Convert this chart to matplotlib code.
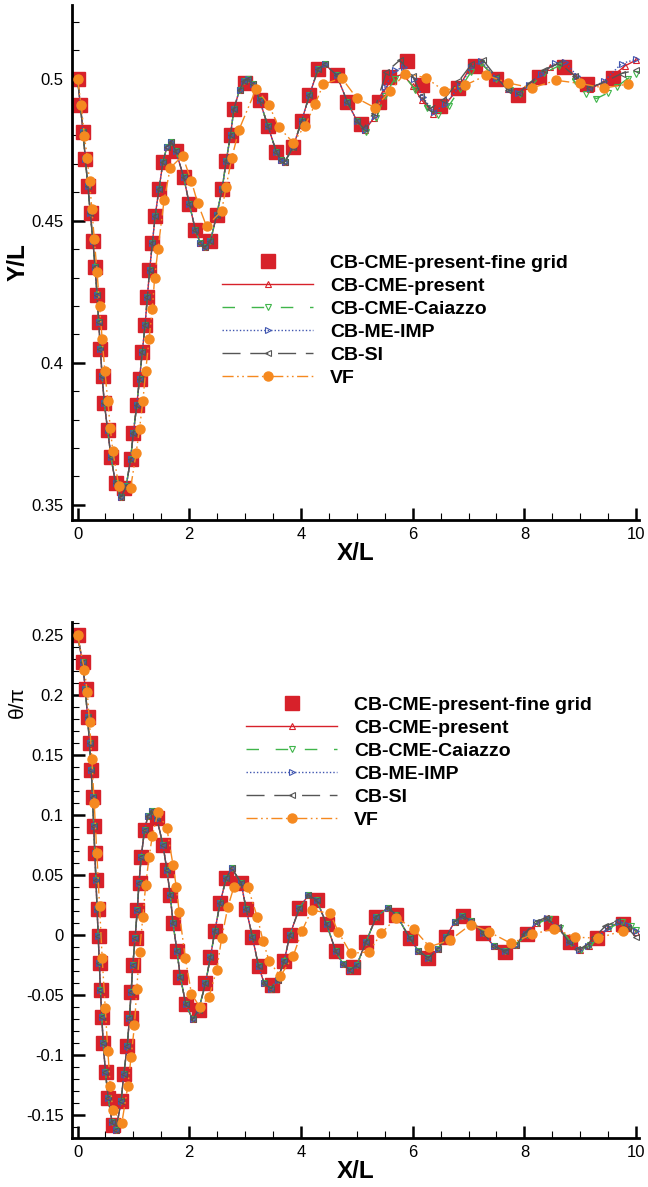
import matplotlib
matplotlib.use('Agg')
import matplotlib.pyplot as plt
from matplotlib.ticker import MultipleLocator, FuncFormatter

plt.rcParams['font.family'] = ['Liberation Sans', 'DejaVu Sans']

# ---------------- top panel: Y/L vs X/L ----------------
# shared part of the four line series (X/L < 5)
x_top_head = [0.00, 0.05, 0.10, 0.14, 0.185, 0.23, 0.275, 0.315, 0.35, 0.38, 0.41, 0.44, 0.48,
              0.54, 0.60, 0.68, 0.78, 0.87, 0.95, 1.00, 1.06, 1.11, 1.16, 1.21, 1.25, 1.29,
              1.34, 1.39, 1.46, 1.53, 1.60, 1.68, 1.76, 1.90, 2.00, 2.11, 2.20, 2.28, 2.38,
              2.49, 2.59, 2.66, 2.74, 2.80, 2.90, 2.98, 3.06, 3.15, 3.26, 3.41, 3.56, 3.64,
              3.71, 3.86, 4.01, 4.15, 4.31, 4.43, 4.64, 4.83, 5.00]
y_top_head = [0.5000, 0.4908, 0.4812, 0.4718, 0.4622, 0.4527, 0.4429, 0.4337, 0.4239, 0.4143,
              0.4047, 0.3953, 0.3858, 0.3762, 0.3668, 0.3576, 0.3527, 0.3565, 0.3660, 0.3754,
              0.3850, 0.3944, 0.4038, 0.4134, 0.4231, 0.4325, 0.4421, 0.4517, 0.4613, 0.4707,
              0.4760, 0.4777, 0.4745, 0.4654, 0.4560, 0.4468, 0.4420, 0.4407, 0.4429, 0.4519,
              0.4613, 0.4709, 0.4803, 0.4894, 0.4960, 0.4990, 0.5000, 0.4980, 0.4924, 0.4832,
              0.4742, 0.4712, 0.4707, 0.4759, 0.4850, 0.4941, 0.5035, 0.5050, 0.5012, 0.4918,
              0.4852]

# tails (X/L > 5), where the schemes drift apart
x_top_present = [5.14, 5.30, 5.47, 5.65, 5.82, 6.00, 6.16, 6.37, 6.55, 6.82, 7.00, 7.20, 7.50,
                 7.70, 7.86, 8.05, 8.27, 8.45, 8.67, 8.90, 9.18, 9.40, 9.59, 9.80, 10.0]
y_top_present = [0.4818, 0.4860, 0.4953, 0.5005, 0.5015, 0.4975, 0.4925, 0.4877, 0.4900, 0.4967,
                 0.5030, 0.5059, 0.5000, 0.4965, 0.4953, 0.4975, 0.5006, 0.5040, 0.5059, 0.5010,
                 0.4965, 0.4985, 0.5010, 0.5045, 0.5065]
x_top_caiazzo = [5.16, 5.35, 5.50, 5.68, 5.84, 6.05, 6.25, 6.46, 6.65, 6.85, 7.05, 7.22, 7.50,
                 7.75, 7.92, 8.10, 8.35, 8.62, 8.90, 9.10, 9.29, 9.50, 9.65, 9.85, 10.0]
y_top_caiazzo = [0.4812, 0.4860, 0.4940, 0.5000, 0.5012, 0.4960, 0.4895, 0.4871, 0.4905, 0.4965,
                 0.5025, 0.5055, 0.5000, 0.4960, 0.4945, 0.4970, 0.5020, 0.5045, 0.4990, 0.4945,
                 0.4930, 0.4950, 0.4971, 0.5000, 0.5018]
x_top_meimp = [5.14, 5.32, 5.50, 5.68, 5.85, 6.02, 6.18, 6.38, 6.58, 6.85, 7.05, 7.22, 7.50,
               7.72, 7.88, 8.08, 8.30, 8.55, 8.72, 8.95, 9.18, 9.42, 9.74, 10.0]
y_top_meimp = [0.4820, 0.4870, 0.4970, 0.5030, 0.5040, 0.5000, 0.4935, 0.4882, 0.4910, 0.4975,
               0.5040, 0.5062, 0.5002, 0.4962, 0.4950, 0.4978, 0.5015, 0.5055, 0.5060, 0.5008,
               0.4966, 0.4990, 0.5053, 0.5068]
x_top_si = [5.12, 5.30, 5.53, 5.77, 6.00, 6.15, 6.31, 6.55, 6.82, 7.05, 7.26, 7.50, 7.70, 7.90,
            8.10, 8.35, 8.62, 8.90, 9.15, 9.40, 9.74, 10.0]
y_top_si = [0.4825, 0.4880, 0.5024, 0.5065, 0.5010, 0.4940, 0.4894, 0.4925, 0.4990, 0.5050,
            0.5065, 0.5005, 0.4960, 0.4950, 0.4985, 0.5030, 0.5055, 0.5010, 0.4968, 0.4985,
            0.5018, 0.5030]

# fine grid squares
x_top_fine = [0.00, 0.05, 0.095, 0.14, 0.185, 0.233, 0.275, 0.317, 0.353, 0.376, 0.40, 0.454,
              0.47, 0.55, 0.604, 0.68, 0.824, 0.95, 1.00, 1.07, 1.11, 1.16, 1.21, 1.24, 1.28,
              1.34, 1.39, 1.46, 1.53, 1.76, 1.90, 2.00, 2.11, 2.38, 2.49, 2.59, 2.66, 2.74,
              2.80, 3.00, 3.26, 3.41, 3.56, 3.86, 4.01, 4.15, 4.31, 4.64, 4.83, 5.08, 5.39,
              5.57, 5.89, 6.16, 6.48, 6.82, 7.11, 7.50, 7.89, 8.27, 8.70, 9.12, 9.59]
y_top_fine = [0.5000, 0.4908, 0.4812, 0.4718, 0.4622, 0.4527, 0.4429, 0.4337, 0.4239, 0.4143,
              0.4047, 0.3953, 0.3858, 0.3762, 0.3668, 0.3576, 0.3559, 0.3660, 0.3754, 0.3850,
              0.3944, 0.4038, 0.4134, 0.4231, 0.4325, 0.4421, 0.4517, 0.4613, 0.4707, 0.4745,
              0.4654, 0.4560, 0.4468, 0.4429, 0.4519, 0.4613, 0.4709, 0.4803, 0.4894, 0.4986,
              0.4924, 0.4832, 0.4742, 0.4759, 0.4850, 0.4941, 0.5035, 0.5012, 0.4918, 0.4841,
              0.4918, 0.5006, 0.5061, 0.4977, 0.4904, 0.4967, 0.5045, 0.5000, 0.4941, 0.5004,
              0.5041, 0.4982, 0.5003]

# VF
x_top_vf = [0.00, 0.066, 0.125, 0.174, 0.215, 0.257, 0.30, 0.35, 0.394, 0.442, 0.49, 0.543,
            0.586, 0.633, 0.74, 0.95, 1.05, 1.11, 1.17, 1.22, 1.28, 1.34, 1.38, 1.44, 1.55,
            1.66, 1.88, 2.04, 2.15, 2.31, 2.58, 2.66, 2.76, 2.89, 3.20, 3.43, 3.60, 3.86,
            4.07, 4.25, 4.40, 4.73, 5.00, 5.33, 5.59, 5.86, 6.24, 6.56, 6.94, 7.32, 7.71,
            8.13, 8.57, 9.00, 9.43, 9.86]
y_top_vf = [0.5000, 0.4906, 0.4797, 0.4721, 0.4638, 0.4540, 0.4435, 0.4320, 0.4200, 0.4082,
            0.3970, 0.3864, 0.3770, 0.3688, 0.3566, 0.3559, 0.3683, 0.3768, 0.3865, 0.3970,
            0.4082, 0.4190, 0.4298, 0.4399, 0.4572, 0.4686, 0.4728, 0.4638, 0.4563, 0.4480,
            0.4534, 0.4619, 0.4720, 0.4820, 0.4965, 0.4906, 0.4830, 0.4775, 0.4833, 0.4909,
            0.4980, 0.5002, 0.4931, 0.4897, 0.4956, 0.5018, 0.5003, 0.4957, 0.4977, 0.5012,
            0.4985, 0.4967, 0.4994, 0.4983, 0.4967, 0.4981]

# ---------------- bottom panel: theta/pi vs X/L ----------------
x_bot_head = [0.00, 0.09, 0.14, 0.18, 0.215, 0.245, 0.27, 0.29, 0.31, 0.33, 0.35, 0.37, 0.39,
              0.41, 0.435, 0.46, 0.50, 0.55, 0.62, 0.69, 0.78, 0.83, 0.89, 0.93, 0.96, 0.99,
              1.03, 1.07, 1.10, 1.14, 1.20, 1.26, 1.33, 1.42, 1.53, 1.60, 1.66, 1.71, 1.78,
              1.84, 1.94, 2.06, 2.17, 2.29, 2.38, 2.46, 2.55, 2.66, 2.76, 2.93, 3.02, 3.13,
              3.24, 3.34, 3.46, 3.58, 3.70, 3.80, 3.97, 4.13, 4.28, 4.46, 4.62, 4.75, 4.87,
              5.00, 5.16, 5.35, 5.56, 5.71, 5.95, 6.10, 6.28, 6.45, 6.60, 6.75, 6.88, 7.05,
              7.26, 7.45, 7.66, 7.85]
t_bot_head = [0.2500, 0.2272, 0.2047, 0.1819, 0.1597, 0.1375, 0.1147, 0.0911, 0.0680, 0.0458,
              0.0217, -0.0006, -0.0231, -0.0458, -0.0681, -0.0903, -0.1139, -0.1361, -0.1560,
              -0.1620, -0.1383, -0.1153, -0.0922, -0.0694, -0.0472, -0.0250, -0.0028, 0.0208,
              0.0430, 0.0653, 0.0875, 0.0990, 0.1030, 0.0972, 0.0750, 0.0542, 0.0333, 0.0097,
              -0.0131, -0.0347, -0.0578, -0.0703, -0.0620, -0.0403, -0.0181, 0.0036, 0.0264,
              0.0472, 0.0560, 0.0431, 0.0214, -0.0014, -0.0258, -0.0400, -0.0445, -0.0370,
              -0.0217, 0.0000, 0.0222, 0.0333, 0.0292, 0.0089, -0.0131, -0.0240, -0.0292,
              -0.0250, -0.0061, 0.0153, 0.0228, 0.0167, -0.0028, -0.0130, -0.0190, -0.0120,
              -0.0014, 0.0110, 0.0161, 0.0120, 0.0019, -0.0090, -0.0135, -0.0080]

x_bot_present = [8.04, 8.22, 8.42, 8.62, 8.82, 9.00, 9.15, 9.30, 9.50, 9.72, 9.88, 10.0]
t_bot_present = [0.0006, 0.0100, 0.0140, 0.0060, -0.0061, -0.0125, -0.0090, -0.0028, 0.0060,
                 0.0111, 0.0080, 0.0028]
x_bot_caiazzo = [8.05, 8.24, 8.44, 8.64, 8.84, 9.02, 9.18, 9.34, 9.54, 9.74, 9.90, 10.0]
t_bot_caiazzo = [0.0004, 0.0098, 0.0138, 0.0058, -0.0065, -0.0123, -0.0085, -0.0020, 0.0065,
                 0.0105, 0.0075, 0.0045]
x_bot_meimp = [8.03, 8.21, 8.40, 8.60, 8.80, 8.98, 9.14, 9.30, 9.50, 9.70, 9.86, 10.0]
t_bot_meimp = [0.0010, 0.0105, 0.0142, 0.0065, -0.0058, -0.0122, -0.0088, -0.0025, 0.0062,
               0.0112, 0.0085, 0.0030]
x_bot_si = [8.00, 8.20, 8.38, 8.60, 8.80, 8.95, 9.10, 9.25, 9.45, 9.65, 9.85, 10.0]
t_bot_si = [0.0012, 0.0110, 0.0145, 0.0065, -0.0060, -0.0120, -0.0090, -0.0020, 0.0075,
            0.0115, 0.0060, -0.0020]

x_bot_fine = [0.00, 0.095, 0.155, 0.185, 0.227, 0.245, 0.275, 0.292, 0.31, 0.323, 0.364, 0.382,
              0.394, 0.412, 0.436, 0.454, 0.514, 0.543, 0.633, 0.783, 0.83, 0.89, 0.95, 0.96,
              0.99, 1.04, 1.07, 1.11, 1.13, 1.20, 1.42, 1.53, 1.60, 1.66, 1.71, 1.78, 1.84,
              1.94, 2.17, 2.29, 2.38, 2.46, 2.55, 2.66, 2.93, 3.02, 3.13, 3.24, 3.48, 3.70,
              3.80, 3.97, 4.28, 4.47, 4.62, 4.93, 5.16, 5.35, 5.71, 5.95, 6.28, 6.60, 6.90,
              7.26, 7.65, 8.04, 8.47, 8.82, 9.30, 9.76]
t_bot_fine = [0.2500, 0.2272, 0.2047, 0.1819, 0.1597, 0.1375, 0.1147, 0.0911, 0.0680, 0.0458,
              0.0217, -0.0006, -0.0231, -0.0458, -0.0681, -0.0903, -0.1139, -0.1361, -0.1578,
              -0.1383, -0.1153, -0.0922, -0.0694, -0.0472, -0.0250, -0.0028, 0.0208, 0.0430,
              0.0653, 0.0875, 0.0972, 0.0750, 0.0542, 0.0333, 0.0097, -0.0131, -0.0347,
              -0.0578, -0.0620, -0.0403, -0.0181, 0.0036, 0.0264, 0.0472, 0.0431, 0.0214,
              -0.0014, -0.0258, -0.0417, -0.0217, 0.0000, 0.0222, 0.0292, 0.0089, -0.0131,
              -0.0264, -0.0061, 0.0153, 0.0167, -0.0028, -0.0194, -0.0014, 0.0161, 0.0019,
              -0.0139, 0.0006, 0.0097, -0.0061, -0.0028, 0.0089]

x_bot_vf = [0.00, 0.125, 0.174, 0.215, 0.257, 0.299, 0.346, 0.394, 0.442, 0.496, 0.543, 0.586,
            0.633, 0.794, 0.90, 0.96, 1.02, 1.06, 1.11, 1.17, 1.22, 1.28, 1.34, 1.44, 1.60,
            1.71, 1.77, 1.82, 1.93, 2.04, 2.19, 2.35, 2.49, 2.58, 2.69, 2.80, 3.05, 3.22,
            3.32, 3.43, 3.63, 3.86, 4.02, 4.19, 4.52, 4.67, 4.89, 5.22, 5.44, 5.71, 6.02,
            6.30, 6.67, 7.04, 7.36, 7.76, 8.14, 8.53, 8.91, 9.32, 9.76]
t_bot_vf = [0.2500, 0.2208, 0.2022, 0.1772, 0.1464, 0.1097, 0.0680, 0.0244, -0.0194, -0.0606,
            -0.0967, -0.1258, -0.1458, -0.1564, -0.1258, -0.1014, -0.0750, -0.0450, -0.0139,
            0.0153, 0.0417, 0.0647, 0.0828, 0.1022, 0.0889, 0.0583, 0.0397, 0.0192, -0.0194,
            -0.0489, -0.0600, -0.0519, -0.0292, -0.0028, 0.0231, 0.0403, 0.0400, 0.0147,
            -0.0047, -0.0217, -0.0342, -0.0175, 0.0036, 0.0208, 0.0181, 0.0025, -0.0153,
            -0.0139, 0.0017, 0.0145, 0.0050, -0.0097, -0.0042, 0.0088, 0.0028, -0.0069,
            0.0006, 0.0053, -0.0018, -0.0025, 0.0035]

labels = ['CB-CME-present-fine grid', 'CB-CME-present', 'CB-CME-Caiazzo',
          'CB-ME-IMP', 'CB-SI', 'VF']

c_red = '#d7212a'
c_green = '#3fb54a'
c_blue = '#4056b0'
c_gray = '#555555'
c_orange = '#f5891f'


def draw_panel(ax, head_x, head_y, tails, fine_x, fine_y, vf_x, vf_y):
    ax.plot(fine_x, fine_y, ls='none', marker='s', ms=9.5, color=c_red, mec=c_red,
            label=labels[0], zorder=2)
    styles = [
        (c_red, '-', '^'),
        (c_green, (0, (9, 12)), 'v'),
        (c_blue, (0, (1, 1.5)), '>'),
        (c_gray, (0, (13, 7)), '<'),
    ]
    for i, (tx, ty) in enumerate(tails):
        col, ls, mk = styles[i]
        ax.plot(head_x + tx, head_y + ty, color=col, ls=ls, lw=1.0, marker=mk, ms=5,
                mfc='none', mec=col, mew=0.8, label=labels[i + 1], zorder=3 + i)
    ax.plot(vf_x, vf_y, color=c_orange, ls=(0, (8, 2.5, 1.2, 2.5, 1.2, 2.5)), lw=1.0,
            marker='o', ms=6.5, mfc=c_orange, mec=c_orange, label=labels[5], zorder=8)

    for s in ['top', 'right']:
        ax.spines[s].set_visible(False)
    for s in ['left', 'bottom']:
        ax.spines[s].set_linewidth(2.0)
    ax.set_xlim(-0.1, 10.05)
    ax.xaxis.set_major_locator(MultipleLocator(2))
    ax.xaxis.set_minor_locator(MultipleLocator(0.5))
    ax.tick_params(which='major', direction='in', length=9, width=1.8, labelsize=12)
    ax.tick_params(which='minor', direction='in', length=5, width=0.8)
    ax.tick_params(axis='y', pad=6)
    ax.tick_params(axis='x', pad=5)
    ax.xaxis.set_major_formatter(FuncFormatter(lambda v, p: '%g' % round(v, 4)))
    ax.yaxis.set_major_formatter(FuncFormatter(lambda v, p: '%g' % (round(v, 4) + 0.0)))
    ax.set_xlabel('X/L', fontsize=17.5, fontweight='bold', labelpad=0)


def add_legend(ax, x0, y0):
    ax.legend(loc='upper left', bbox_to_anchor=(x0, y0), frameon=False,
              prop={'size': 14, 'weight': 'bold'}, handlelength=4.7, handletextpad=0.87,
              labelspacing=0.28, numpoints=1, borderpad=0, borderaxespad=0)


fig = plt.figure(figsize=(6.48, 11.87), dpi=100)

ax1 = fig.add_axes([0.111, 0.562, 0.875, 0.434])
draw_panel(ax1, x_top_head, y_top_head,
           [(x_top_present, y_top_present), (x_top_caiazzo, y_top_caiazzo),
            (x_top_meimp, y_top_meimp), (x_top_si, y_top_si)],
           x_top_fine, y_top_fine, x_top_vf, y_top_vf)
ax1.set_ylim(0.3447, 0.526)
ax1.yaxis.set_major_locator(MultipleLocator(0.05))
ax1.yaxis.set_minor_locator(MultipleLocator(0.01))
ax1.set_ylabel('Y/L', fontsize=17.5, fontweight='bold')
ax1.yaxis.set_label_coords(-0.074, 0.5)
add_legend(ax1, 0.2646, 0.516)

ax2 = fig.add_axes([0.111, 0.0413, 0.875, 0.4347])
draw_panel(ax2, x_bot_head, t_bot_head,
           [(x_bot_present, t_bot_present), (x_bot_caiazzo, t_bot_caiazzo),
            (x_bot_meimp, t_bot_meimp), (x_bot_si, t_bot_si)],
           x_bot_fine, t_bot_fine, x_bot_vf, t_bot_vf)
ax2.set_ylim(-0.169, 0.2608)
ax2.yaxis.set_major_locator(MultipleLocator(0.05))
ax2.yaxis.set_minor_locator(MultipleLocator(0.01))
ax2.set_ylabel('θ/π', fontsize=15)
ax2.yaxis.set_label_coords(-0.079, 0.845)
add_legend(ax2, 0.307, 0.856)

fig.savefig('out.png', dpi=100)
